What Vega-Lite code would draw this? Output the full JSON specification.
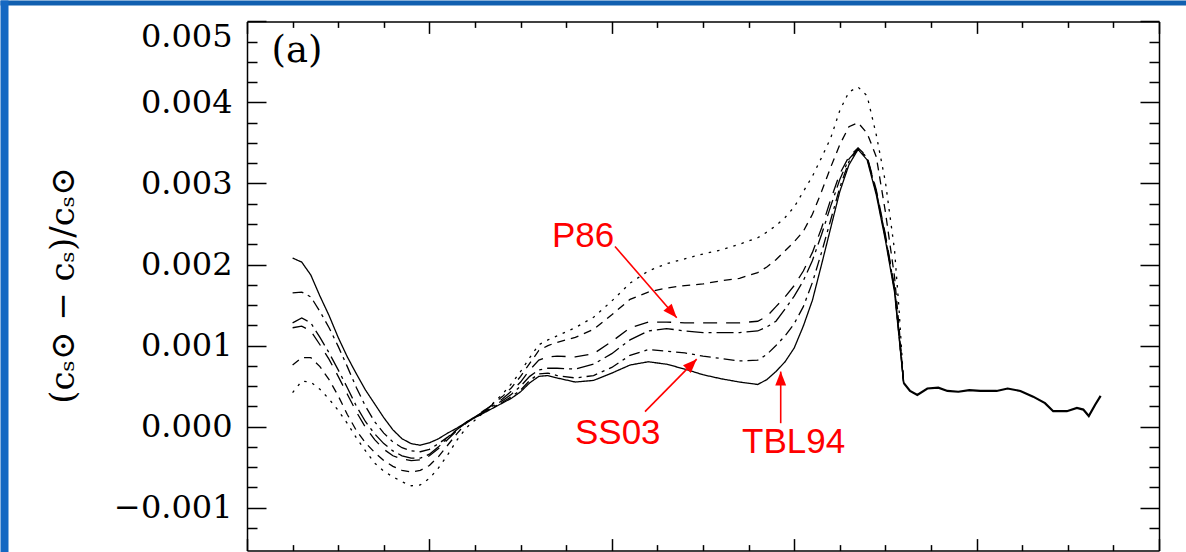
{
  "$schema": "https://vega.github.io/schema/vega-lite/v6.json",
  "usermeta": {"embedOptions": {"actions": false}},
  "autosize": {"type": "none"},
  "width": 1178,
  "height": 547,
  "padding": {"left": 8, "top": 5, "right": 0, "bottom": 0},
  "background": "white",
  "config": {
    "view": {"fill": "white", "stroke": null},
    "axis": {"grid": false, "domainColor": "black", "domainWidth": 1.5, "tickColor": "black", "tickWidth": 1.5, "labelColor": "black", "labelFont": "DejaVu Serif", "labelFontSize": 32, "labelOverlap": false, "labelBound": false, "titleColor": "black"}
  },
  "datasets": {
    "curves": [
      {"m":"TBL94","r":0.05,"v":0.00208},{"m":"TBL94","r":0.06,"v":0.00203},{"m":"TBL94","r":0.07,"v":0.00187},{"m":"TBL94","r":0.08,"v":0.00161},{"m":"TBL94","r":0.09,"v":0.00137},{"m":"TBL94","r":0.1,"v":0.0011},{"m":"TBL94","r":0.11,"v":0.00086},{"m":"TBL94","r":0.12,"v":0.00065},{"m":"TBL94","r":0.13,"v":0.00045},{"m":"TBL94","r":0.14,"v":0.00028},{"m":"TBL94","r":0.15,"v":0.00011},{"m":"TBL94","r":0.16,"v":-0.00004},{"m":"TBL94","r":0.17,"v":-0.00015},{"m":"TBL94","r":0.18,"v":-0.00021},{"m":"TBL94","r":0.19,"v":-0.00023},{"m":"TBL94","r":0.2,"v":-0.0002},{"m":"TBL94","r":0.21,"v":-0.00015},{"m":"TBL94","r":0.22,"v":-0.00008},{"m":"TBL94","r":0.23,"v":-0.00002},{"m":"TBL94","r":0.24,"v":0.00005},{"m":"TBL94","r":0.26,"v":0.00017},{"m":"TBL94","r":0.28,"v":0.00029},{"m":"TBL94","r":0.29,"v":0.00035},{"m":"TBL94","r":0.3,"v":0.00043},{"m":"TBL94","r":0.31,"v":0.00054},{"m":"TBL94","r":0.32,"v":0.00062},{"m":"TBL94","r":0.33,"v":0.00063},{"m":"TBL94","r":0.34,"v":0.0006},{"m":"TBL94","r":0.36,"v":0.00055},{"m":"TBL94","r":0.38,"v":0.00057},{"m":"TBL94","r":0.4,"v":0.00066},{"m":"TBL94","r":0.42,"v":0.00076},{"m":"TBL94","r":0.44,"v":0.0008},{"m":"TBL94","r":0.46,"v":0.00077},{"m":"TBL94","r":0.48,"v":0.00071},{"m":"TBL94","r":0.5,"v":0.00064},{"m":"TBL94","r":0.52,"v":0.00059},{"m":"TBL94","r":0.54,"v":0.00055},{"m":"TBL94","r":0.56,"v":0.00052},{"m":"TBL94","r":0.57,"v":0.00058},{"m":"TBL94","r":0.58,"v":0.00068},{"m":"TBL94","r":0.59,"v":0.0008},{"m":"TBL94","r":0.6,"v":0.00097},{"m":"TBL94","r":0.61,"v":0.00124},{"m":"TBL94","r":0.62,"v":0.00156},{"m":"TBL94","r":0.63,"v":0.002},{"m":"TBL94","r":0.64,"v":0.00245},{"m":"TBL94","r":0.65,"v":0.0029},{"m":"TBL94","r":0.66,"v":0.00323},{"m":"TBL94","r":0.67,"v":0.00342},{"m":"TBL94","r":0.68,"v":0.00329},{"m":"TBL94","r":0.69,"v":0.00286},{"m":"TBL94","r":0.7,"v":0.0023},{"m":"TBL94","r":0.71,"v":0.00166},{"m":"TBL94","r":0.715,"v":0.0011},{"m":"TBL94","r":0.72,"v":0.00054},
      {"m":"SS03","r":0.05,"v":0.00165},{"m":"SS03","r":0.06,"v":0.00166},{"m":"SS03","r":0.07,"v":0.0016},{"m":"SS03","r":0.08,"v":0.00142},{"m":"SS03","r":0.09,"v":0.00122},{"m":"SS03","r":0.1,"v":0.00099},{"m":"SS03","r":0.11,"v":0.00074},{"m":"SS03","r":0.12,"v":0.00048},{"m":"SS03","r":0.13,"v":0.00025},{"m":"SS03","r":0.14,"v":0.00006},{"m":"SS03","r":0.15,"v":-0.00008},{"m":"SS03","r":0.16,"v":-0.00019},{"m":"SS03","r":0.17,"v":-0.00026},{"m":"SS03","r":0.18,"v":-0.0003},{"m":"SS03","r":0.19,"v":-0.00031},{"m":"SS03","r":0.2,"v":-0.00028},{"m":"SS03","r":0.21,"v":-0.00021},{"m":"SS03","r":0.22,"v":-0.00013},{"m":"SS03","r":0.23,"v":-0.00004},{"m":"SS03","r":0.24,"v":0.00005},{"m":"SS03","r":0.26,"v":0.00018},{"m":"SS03","r":0.28,"v":0.0003},{"m":"SS03","r":0.29,"v":0.00037},{"m":"SS03","r":0.3,"v":0.00045},{"m":"SS03","r":0.31,"v":0.00057},{"m":"SS03","r":0.32,"v":0.00065},{"m":"SS03","r":0.33,"v":0.00066},{"m":"SS03","r":0.34,"v":0.00063},{"m":"SS03","r":0.36,"v":0.0006},{"m":"SS03","r":0.38,"v":0.00063},{"m":"SS03","r":0.4,"v":0.00073},{"m":"SS03","r":0.42,"v":0.00088},{"m":"SS03","r":0.44,"v":0.00095},{"m":"SS03","r":0.46,"v":0.00093},{"m":"SS03","r":0.48,"v":0.00091},{"m":"SS03","r":0.5,"v":0.00087},{"m":"SS03","r":0.52,"v":0.00084},{"m":"SS03","r":0.54,"v":0.00081},{"m":"SS03","r":0.56,"v":0.00082},{"m":"SS03","r":0.57,"v":0.00089},{"m":"SS03","r":0.58,"v":0.001},{"m":"SS03","r":0.59,"v":0.00112},{"m":"SS03","r":0.6,"v":0.00127},{"m":"SS03","r":0.61,"v":0.00148},{"m":"SS03","r":0.62,"v":0.00178},{"m":"SS03","r":0.63,"v":0.00215},{"m":"SS03","r":0.64,"v":0.00255},{"m":"SS03","r":0.65,"v":0.00295},{"m":"SS03","r":0.66,"v":0.00327},{"m":"SS03","r":0.67,"v":0.00343},{"m":"SS03","r":0.68,"v":0.00331},{"m":"SS03","r":0.69,"v":0.00289},{"m":"SS03","r":0.7,"v":0.00233},{"m":"SS03","r":0.71,"v":0.00169},{"m":"SS03","r":0.715,"v":0.00112},{"m":"SS03","r":0.72,"v":0.00054},
      {"m":"P86","r":0.05,"v":0.00122},{"m":"P86","r":0.06,"v":0.00124},{"m":"P86","r":0.07,"v":0.00118},{"m":"P86","r":0.08,"v":0.00101},{"m":"P86","r":0.09,"v":0.00083},{"m":"P86","r":0.1,"v":0.00062},{"m":"P86","r":0.11,"v":0.0004},{"m":"P86","r":0.12,"v":0.00018},{"m":"P86","r":0.13,"v":-0.00001},{"m":"P86","r":0.14,"v":-0.00016},{"m":"P86","r":0.15,"v":-0.00028},{"m":"P86","r":0.16,"v":-0.00036},{"m":"P86","r":0.17,"v":-0.0004},{"m":"P86","r":0.18,"v":-0.00042},{"m":"P86","r":0.19,"v":-0.00041},{"m":"P86","r":0.2,"v":-0.00036},{"m":"P86","r":0.21,"v":-0.00027},{"m":"P86","r":0.22,"v":-0.00016},{"m":"P86","r":0.23,"v":-0.00005},{"m":"P86","r":0.24,"v":0.00005},{"m":"P86","r":0.26,"v":0.0002},{"m":"P86","r":0.28,"v":0.00034},{"m":"P86","r":0.29,"v":0.00044},{"m":"P86","r":0.3,"v":0.00055},{"m":"P86","r":0.31,"v":0.0007},{"m":"P86","r":0.32,"v":0.00082},{"m":"P86","r":0.33,"v":0.00086},{"m":"P86","r":0.34,"v":0.00087},{"m":"P86","r":0.36,"v":0.00086},{"m":"P86","r":0.38,"v":0.0009},{"m":"P86","r":0.4,"v":0.00105},{"m":"P86","r":0.42,"v":0.00122},{"m":"P86","r":0.44,"v":0.00129},{"m":"P86","r":0.46,"v":0.00129},{"m":"P86","r":0.48,"v":0.00128},{"m":"P86","r":0.5,"v":0.00128},{"m":"P86","r":0.52,"v":0.00128},{"m":"P86","r":0.54,"v":0.00128},{"m":"P86","r":0.56,"v":0.0013},{"m":"P86","r":0.57,"v":0.00136},{"m":"P86","r":0.58,"v":0.00148},{"m":"P86","r":0.59,"v":0.0016},{"m":"P86","r":0.6,"v":0.00174},{"m":"P86","r":0.61,"v":0.00192},{"m":"P86","r":0.62,"v":0.00215},{"m":"P86","r":0.63,"v":0.00245},{"m":"P86","r":0.64,"v":0.0028},{"m":"P86","r":0.65,"v":0.00312},{"m":"P86","r":0.66,"v":0.00333},{"m":"P86","r":0.67,"v":0.00344},{"m":"P86","r":0.68,"v":0.00333},{"m":"P86","r":0.69,"v":0.00292},{"m":"P86","r":0.7,"v":0.00237},{"m":"P86","r":0.71,"v":0.00172},{"m":"P86","r":0.715,"v":0.00115},{"m":"P86","r":0.72,"v":0.00054},
      {"m":"M4","r":0.05,"v":0.00128},{"m":"M4","r":0.06,"v":0.00134},{"m":"M4","r":0.07,"v":0.00128},{"m":"M4","r":0.08,"v":0.0011},{"m":"M4","r":0.09,"v":0.00091},{"m":"M4","r":0.1,"v":0.0007},{"m":"M4","r":0.11,"v":0.00048},{"m":"M4","r":0.12,"v":0.00025},{"m":"M4","r":0.13,"v":0.00006},{"m":"M4","r":0.14,"v":-0.00009},{"m":"M4","r":0.15,"v":-0.00021},{"m":"M4","r":0.16,"v":-0.0003},{"m":"M4","r":0.17,"v":-0.00036},{"m":"M4","r":0.18,"v":-0.00039},{"m":"M4","r":0.19,"v":-0.00039},{"m":"M4","r":0.2,"v":-0.00034},{"m":"M4","r":0.21,"v":-0.00025},{"m":"M4","r":0.22,"v":-0.00014},{"m":"M4","r":0.23,"v":-0.00004},{"m":"M4","r":0.24,"v":0.00005},{"m":"M4","r":0.26,"v":0.00019},{"m":"M4","r":0.28,"v":0.00032},{"m":"M4","r":0.29,"v":0.0004},{"m":"M4","r":0.3,"v":0.0005},{"m":"M4","r":0.31,"v":0.00062},{"m":"M4","r":0.32,"v":0.0007},{"m":"M4","r":0.33,"v":0.00072},{"m":"M4","r":0.34,"v":0.00072},{"m":"M4","r":0.36,"v":0.00071},{"m":"M4","r":0.38,"v":0.00077},{"m":"M4","r":0.4,"v":0.0009},{"m":"M4","r":0.42,"v":0.00107},{"m":"M4","r":0.44,"v":0.00118},{"m":"M4","r":0.46,"v":0.00121},{"m":"M4","r":0.48,"v":0.00118},{"m":"M4","r":0.5,"v":0.00116},{"m":"M4","r":0.52,"v":0.00116},{"m":"M4","r":0.54,"v":0.00116},{"m":"M4","r":0.56,"v":0.00118},{"m":"M4","r":0.57,"v":0.00123},{"m":"M4","r":0.58,"v":0.0013},{"m":"M4","r":0.59,"v":0.00145},{"m":"M4","r":0.6,"v":0.00161},{"m":"M4","r":0.61,"v":0.0018},{"m":"M4","r":0.62,"v":0.00205},{"m":"M4","r":0.63,"v":0.00237},{"m":"M4","r":0.64,"v":0.00272},{"m":"M4","r":0.65,"v":0.00305},{"m":"M4","r":0.66,"v":0.0033},{"m":"M4","r":0.67,"v":0.00343},{"m":"M4","r":0.68,"v":0.00332},{"m":"M4","r":0.69,"v":0.0029},{"m":"M4","r":0.7,"v":0.00235},{"m":"M4","r":0.71,"v":0.0017},{"m":"M4","r":0.715,"v":0.00113},{"m":"M4","r":0.72,"v":0.00054},
      {"m":"M5","r":0.05,"v":0.00076},{"m":"M5","r":0.06,"v":0.00085},{"m":"M5","r":0.07,"v":0.00085},{"m":"M5","r":0.08,"v":0.00074},{"m":"M5","r":0.09,"v":0.00058},{"m":"M5","r":0.1,"v":0.00038},{"m":"M5","r":0.11,"v":0.00015},{"m":"M5","r":0.12,"v":-0.00005},{"m":"M5","r":0.13,"v":-0.0002},{"m":"M5","r":0.14,"v":-0.00032},{"m":"M5","r":0.15,"v":-0.00042},{"m":"M5","r":0.16,"v":-0.00049},{"m":"M5","r":0.17,"v":-0.00054},{"m":"M5","r":0.18,"v":-0.00056},{"m":"M5","r":0.19,"v":-0.00054},{"m":"M5","r":0.2,"v":-0.00048},{"m":"M5","r":0.21,"v":-0.00037},{"m":"M5","r":0.22,"v":-0.00023},{"m":"M5","r":0.23,"v":-0.00009},{"m":"M5","r":0.24,"v":0.00004},{"m":"M5","r":0.26,"v":0.00019},{"m":"M5","r":0.28,"v":0.00037},{"m":"M5","r":0.29,"v":0.00048},{"m":"M5","r":0.3,"v":0.00062},{"m":"M5","r":0.31,"v":0.00078},{"m":"M5","r":0.32,"v":0.00094},{"m":"M5","r":0.33,"v":0.001},{"m":"M5","r":0.34,"v":0.00104},{"m":"M5","r":0.36,"v":0.0011},{"m":"M5","r":0.38,"v":0.0012},{"m":"M5","r":0.4,"v":0.00138},{"m":"M5","r":0.42,"v":0.00157},{"m":"M5","r":0.44,"v":0.00166},{"m":"M5","r":0.46,"v":0.00171},{"m":"M5","r":0.48,"v":0.00174},{"m":"M5","r":0.5,"v":0.00176},{"m":"M5","r":0.52,"v":0.0018},{"m":"M5","r":0.54,"v":0.00183},{"m":"M5","r":0.56,"v":0.0019},{"m":"M5","r":0.57,"v":0.00197},{"m":"M5","r":0.58,"v":0.00206},{"m":"M5","r":0.59,"v":0.00217},{"m":"M5","r":0.6,"v":0.00228},{"m":"M5","r":0.61,"v":0.00241},{"m":"M5","r":0.62,"v":0.00262},{"m":"M5","r":0.63,"v":0.0029},{"m":"M5","r":0.64,"v":0.0032},{"m":"M5","r":0.65,"v":0.00348},{"m":"M5","r":0.66,"v":0.0037},{"m":"M5","r":0.67,"v":0.00375},{"m":"M5","r":0.68,"v":0.00362},{"m":"M5","r":0.69,"v":0.00333},{"m":"M5","r":0.7,"v":0.00265},{"m":"M5","r":0.71,"v":0.00185},{"m":"M5","r":0.715,"v":0.00123},{"m":"M5","r":0.72,"v":0.00054},
      {"m":"M6","r":0.05,"v":0.00042},{"m":"M6","r":0.06,"v":0.00056},{"m":"M6","r":0.07,"v":0.00055},{"m":"M6","r":0.08,"v":0.00046},{"m":"M6","r":0.09,"v":0.00034},{"m":"M6","r":0.1,"v":0.0002},{"m":"M6","r":0.11,"v":0.00004},{"m":"M6","r":0.12,"v":-0.00014},{"m":"M6","r":0.13,"v":-0.0003},{"m":"M6","r":0.14,"v":-0.00045},{"m":"M6","r":0.15,"v":-0.00055},{"m":"M6","r":0.16,"v":-0.00062},{"m":"M6","r":0.17,"v":-0.00068},{"m":"M6","r":0.18,"v":-0.00073},{"m":"M6","r":0.19,"v":-0.00072},{"m":"M6","r":0.2,"v":-0.00064},{"m":"M6","r":0.21,"v":-0.00051},{"m":"M6","r":0.22,"v":-0.00035},{"m":"M6","r":0.23,"v":-0.00017},{"m":"M6","r":0.24,"v":-0.00002},{"m":"M6","r":0.26,"v":0.00018},{"m":"M6","r":0.28,"v":0.0004},{"m":"M6","r":0.29,"v":0.00053},{"m":"M6","r":0.3,"v":0.00068},{"m":"M6","r":0.31,"v":0.00085},{"m":"M6","r":0.32,"v":0.00101},{"m":"M6","r":0.33,"v":0.00107},{"m":"M6","r":0.34,"v":0.00112},{"m":"M6","r":0.36,"v":0.00122},{"m":"M6","r":0.38,"v":0.00135},{"m":"M6","r":0.4,"v":0.00155},{"m":"M6","r":0.42,"v":0.00177},{"m":"M6","r":0.44,"v":0.00192},{"m":"M6","r":0.46,"v":0.00201},{"m":"M6","r":0.48,"v":0.00207},{"m":"M6","r":0.5,"v":0.00213},{"m":"M6","r":0.52,"v":0.00218},{"m":"M6","r":0.54,"v":0.00225},{"m":"M6","r":0.56,"v":0.00233},{"m":"M6","r":0.57,"v":0.0024},{"m":"M6","r":0.58,"v":0.00248},{"m":"M6","r":0.59,"v":0.00258},{"m":"M6","r":0.6,"v":0.00271},{"m":"M6","r":0.61,"v":0.0029},{"m":"M6","r":0.62,"v":0.00309},{"m":"M6","r":0.63,"v":0.00332},{"m":"M6","r":0.64,"v":0.00356},{"m":"M6","r":0.65,"v":0.0039},{"m":"M6","r":0.66,"v":0.00413},{"m":"M6","r":0.67,"v":0.00419},{"m":"M6","r":0.68,"v":0.00408},{"m":"M6","r":0.69,"v":0.0036},{"m":"M6","r":0.7,"v":0.00302},{"m":"M6","r":0.71,"v":0.00218},{"m":"M6","r":0.715,"v":0.00144},{"m":"M6","r":0.72,"v":0.00054}
    ],
    "tail": [
      {"r":0.72,"v":0.00054},{"r":0.727,"v":0.00044},{"r":0.735,"v":0.00039},{"r":0.746,"v":0.00047},{"r":0.758,"v":0.00048},{"r":0.768,"v":0.00044},{"r":0.78,"v":0.00043},{"r":0.792,"v":0.00045},{"r":0.804,"v":0.00044},{"r":0.822,"v":0.00044},{"r":0.834,"v":0.00047},{"r":0.848,"v":0.00044},{"r":0.862,"v":0.00037},{"r":0.875,"v":0.00029},{"r":0.884,"v":0.00019},{"r":0.899,"v":0.00019},{"r":0.91,"v":0.00023},{"r":0.917,"v":0.00021},{"r":0.923,"v":0.00013},{"r":0.93,"v":0.00027},{"r":0.936,"v":0.00038}
    ],
    "panel": [{"t":"(a)","r":0.027,"v":0.0045}],
    "labels": [
      {"t":"P86","r":0.3344,"v":0.002222},
      {"t":"SS03","r":0.3596,"v":-0.000214},
      {"t":"TBL94","r":0.5428,"v":-0.000325}
    ],
    "arrows": [
      {"lab":"P86","r0":0.4035,"v0":0.002222,"r1":0.4712,"v1":0.001342},
      {"lab":"SS03","r0":0.4364,"v0":0.000185,"r1":0.4931,"v1":0.000832},
      {"lab":"TBL94","r0":0.5852,"v0":0.000042,"r1":0.5852,"v1":0.000679}
    ],
    "frame": [{"r":0,"v":0}]
  },
  "resolve": {"scale": {"x": "independent", "y": "independent"}, "axis": {"x": "independent", "y": "independent"}},
  "layer": [
    {
      "data": {"name": "curves"},
      "mark": {"type": "line", "color": "black", "strokeWidth": 1.3},
      "encoding": {
        "x": {"field": "r", "type": "quantitative",
          "scale": {"domain": [0, 1], "range": [239, 1151], "nice": false, "zero": false},
          "axis": {"orient": "top", "offset": -16.4,
            "values": [0,0.05,0.1,0.15,0.2,0.25,0.3,0.35,0.4,0.45,0.5,0.55,0.6,0.65,0.7,0.75,0.8,0.85,0.9,0.95,1],
            "tickSize": {"condition": {"test": "abs(datum.value*5-round(datum.value*5))<0.01", "value": -12}, "value": -6},
            "labels": false, "title": null}},
        "y": {"field": "v", "type": "quantitative",
          "scale": {"domain": [-0.00153, 0.005], "range": [545.6, 16.4], "nice": false, "zero": false},
          "axis": {"orient": "left", "offset": -239,
            "values": [-0.00125,-0.001,-0.00075,-0.0005,-0.00025,0,0.00025,0.0005,0.00075,0.001,0.00125,0.0015,0.00175,0.002,0.00225,0.0025,0.00275,0.003,0.00325,0.0035,0.00375,0.004,0.00425,0.0045,0.00475,0.005],
            "tickSize": {"condition": {"test": "abs(datum.value*1000-round(datum.value*1000))<0.01", "value": -19}, "value": -10},
            "labelExpr": "abs(datum.value*1000-round(datum.value*1000))<0.01 ? format(datum.value,'.3f') : ''",
            "labelPadding": 34, "labelFlush": 1,
            "title": "(cₛ⊙ − cₛ)/cₛ⊙", "titleFont": "DejaVu Serif", "titleFontSize": 34, "titleFontWeight": "normal",
            "titleX": -184, "titleY": 280, "titleAngle": -90, "titleAlign": "center", "titleBaseline": "middle"}},
        "strokeDash": {"field": "m", "type": "nominal",
          "scale": {"domain": ["TBL94","SS03","P86","M4","M5","M6"], "range": [[1,0],[11,5,3,5],[14,9],[17,5,3,5],[8,6],[2.5,6]]},
          "legend": null}
      }
    },
    {
      "mark": {"type": "rule", "color": "black", "strokeWidth": 1.2, "strokeDash": [6, 7]},
      "encoding": {
        "x": {"datum": 0, "type": "quantitative",
          "scale": {"domain": [0, 1], "range": [239, 1151], "nice": false, "zero": false},
          "axis": {"orient": "top", "offset": -545.6,
            "values": [0,0.05,0.1,0.15,0.2,0.25,0.3,0.35,0.4,0.45,0.5,0.55,0.6,0.65,0.7,0.75,0.8,0.85,0.9,0.95,1],
            "tickSize": {"condition": {"test": "abs(datum.value*5-round(datum.value*5))<0.01", "value": 12}, "value": 6},
            "labels": false, "title": null}},
        "x2": {"datum": 1},
        "y": {"datum": 0, "type": "quantitative",
          "scale": {"domain": [-0.00153, 0.005], "range": [545.6, 16.4], "nice": false, "zero": false},
          "axis": {"orient": "left", "offset": -1151,
            "values": [-0.00125,-0.001,-0.00075,-0.0005,-0.00025,0,0.00025,0.0005,0.00075,0.001,0.00125,0.0015,0.00175,0.002,0.00225,0.0025,0.00275,0.003,0.00325,0.0035,0.00375,0.004,0.00425,0.0045,0.00475,0.005],
            "tickSize": {"condition": {"test": "abs(datum.value*1000-round(datum.value*1000))<0.01", "value": 19}, "value": 10},
            "labels": false, "title": null}}
      }
    },
    {
      "data": {"name": "frame"},
      "mark": {"type": "point", "opacity": 0},
      "encoding": {
        "x": {"field": "r", "type": "quantitative",
          "scale": {"domain": [0, 1], "range": [-8, 1178], "nice": false, "zero": false},
          "axis": {"orient": "top", "offset": 2.5, "domainColor": "#1160b0", "domainWidth": 5, "ticks": false, "labels": false, "title": null}},
        "y": {"field": "v", "type": "quantitative",
          "scale": {"domain": [0, 1], "range": [547, -5], "nice": false, "zero": false},
          "axis": {"orient": "left", "offset": 4, "domainColor": "#1468c2", "domainWidth": 8, "ticks": false, "labels": false, "title": null}}
      }
    },
    {
      "data": {"name": "tail"},
      "mark": {"type": "line", "color": "black", "strokeWidth": 2.2},
      "encoding": {
        "x": {"field": "r", "type": "quantitative", "scale": {"domain": [0, 1], "range": [239, 1151], "nice": false, "zero": false}, "axis": null},
        "y": {"field": "v", "type": "quantitative", "scale": {"domain": [-0.00153, 0.005], "range": [545.6, 16.4], "nice": false, "zero": false}, "axis": null}
      }
    },
    {
      "data": {"name": "panel"},
      "mark": {"type": "text", "font": "DejaVu Serif", "fontSize": 37, "align": "left", "baseline": "alphabetic", "color": "black"},
      "encoding": {
        "x": {"field": "r", "type": "quantitative", "scale": {"domain": [0, 1], "range": [239, 1151], "nice": false, "zero": false}, "axis": null},
        "y": {"field": "v", "type": "quantitative", "scale": {"domain": [-0.00153, 0.005], "range": [545.6, 16.4], "nice": false, "zero": false}, "axis": null},
        "text": {"field": "t"}
      }
    },
    {
      "data": {"name": "labels"},
      "mark": {"type": "text", "font": "Liberation Sans", "fontSize": 35, "align": "left", "baseline": "alphabetic", "color": "#ff0000"},
      "encoding": {
        "x": {"field": "r", "type": "quantitative", "scale": {"domain": [0, 1], "range": [239, 1151], "nice": false, "zero": false}, "axis": null},
        "y": {"field": "v", "type": "quantitative", "scale": {"domain": [-0.00153, 0.005], "range": [545.6, 16.4], "nice": false, "zero": false}, "axis": null},
        "text": {"field": "t"}
      }
    },
    {
      "data": {"name": "arrows"},
      "mark": {"type": "rule", "color": "#ff0000", "strokeWidth": 1.6},
      "encoding": {
        "x": {"field": "r0", "type": "quantitative", "scale": {"domain": [0, 1], "range": [239, 1151], "nice": false, "zero": false}, "axis": null},
        "y": {"field": "v0", "type": "quantitative", "scale": {"domain": [-0.00153, 0.005], "range": [545.6, 16.4], "nice": false, "zero": false}, "axis": null},
        "x2": {"field": "r1"},
        "y2": {"field": "v1"}
      }
    },
    {
      "data": {"name": "arrows"},
      "transform": [{"filter": "datum.lab === 'P86'"}],
      "mark": {"type": "point", "shape": "M0,0L-0.39,1L0.39,1Z", "filled": true, "size": 784, "angle": 139, "color": "#ff0000", "opacity": 1, "strokeWidth": 0},
      "encoding": {
        "x": {"field": "r1", "type": "quantitative", "scale": {"domain": [0, 1], "range": [239, 1151], "nice": false, "zero": false}, "axis": null},
        "y": {"field": "v1", "type": "quantitative", "scale": {"domain": [-0.00153, 0.005], "range": [545.6, 16.4], "nice": false, "zero": false}, "axis": null}
      }
    },
    {
      "data": {"name": "arrows"},
      "transform": [{"filter": "datum.lab === 'SS03'"}],
      "mark": {"type": "point", "shape": "M0,0L-0.39,1L0.39,1Z", "filled": true, "size": 784, "angle": 44.6, "color": "#ff0000", "opacity": 1, "strokeWidth": 0},
      "encoding": {
        "x": {"field": "r1", "type": "quantitative", "scale": {"domain": [0, 1], "range": [239, 1151], "nice": false, "zero": false}, "axis": null},
        "y": {"field": "v1", "type": "quantitative", "scale": {"domain": [-0.00153, 0.005], "range": [545.6, 16.4], "nice": false, "zero": false}, "axis": null}
      }
    },
    {
      "data": {"name": "arrows"},
      "transform": [{"filter": "datum.lab === 'TBL94'"}],
      "mark": {"type": "point", "shape": "M0,0L-0.39,1L0.39,1Z", "filled": true, "size": 784, "angle": 0, "color": "#ff0000", "opacity": 1, "strokeWidth": 0},
      "encoding": {
        "x": {"field": "r1", "type": "quantitative", "scale": {"domain": [0, 1], "range": [239, 1151], "nice": false, "zero": false}, "axis": null},
        "y": {"field": "v1", "type": "quantitative", "scale": {"domain": [-0.00153, 0.005], "range": [545.6, 16.4], "nice": false, "zero": false}, "axis": null}
      }
    }
  ]
}
